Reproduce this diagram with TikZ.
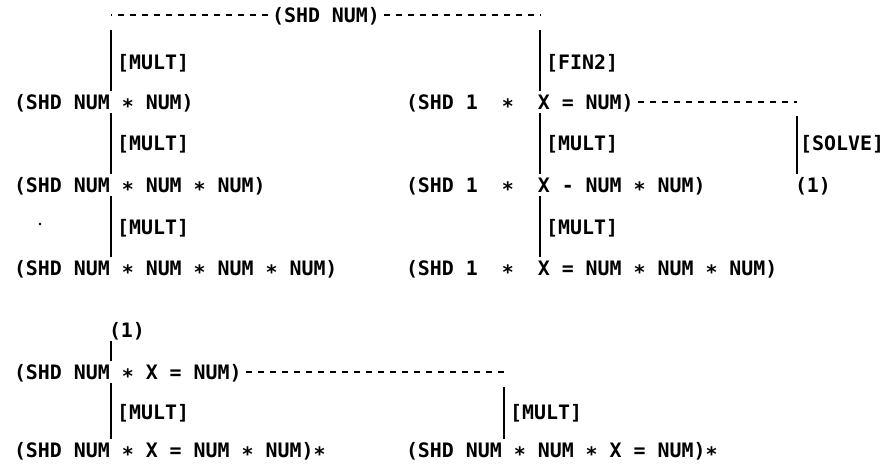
\documentclass[tikz,border=0pt]{standalone}
\usepackage{fontspec}
\newfontfamily\printfont{DejaVu Sans Mono}
% multiplication sign, lowered to sit near the middle of the capitals
\newcommand\mul{\raisebox{-0.35ex}{*}}
\begin{document}
\begin{tikzpicture}[x=1pt,y=-1pt,
  lp/.style={font=\printfont\bfseries\fontsize{19.9}{20}\selectfont,
    inner sep=0pt, text height=14.5pt, text depth=0pt},
  expr/.style={lp, anchor=west, outer sep=4pt},
  rulename/.style={lp, anchor=west},
  link/.style={line width=2.2pt},
  chain/.style={line width=1.5pt, dash pattern=on 6pt off 6pt}]
\useasboundingbox (0,0) rectangle (885,467);

% root of the search tree
\node[expr, anchor=center] (root) at (326,15) {(SHD NUM)};
\coordinate (tl) at (111,15);
\coordinate (tr) at (540,15);
\draw[chain] (root.west) -- (tl);
\draw[chain] (root.east) -- (tr);

% left branch
\coordinate (ca) at (111,0);
\node[expr] (a1) at (10,102) {(SHD NUM \mul{} NUM)};
\node[expr] (a2) at (10,185) {(SHD NUM \mul{} NUM \mul{} NUM)};
\node[expr] (a3) at (10,268) {(SHD NUM \mul{} NUM \mul{} NUM \mul{} NUM)};
\draw[link] ([yshift=-15pt]tl) -- (ca |- a1.north);
\draw[link] (ca |- a1.south) -- (ca |- a2.north);
\draw[link] (ca |- a2.south) -- (ca |- a3.north);
\node[rulename] (ma1) at (117,62) {[MULT]};
\node[rulename] (ma2) at (117,143) {[MULT]};
\node[rulename] (ma3) at (117,227) {[MULT]};
\fill (40,224) circle (1.3pt);

% right branch
\coordinate (cb) at (540,0);
\node[expr] (b1) at (402,102) {(SHD 1~~\mul{}~~X = NUM)};
\node[expr] (b2) at (402,185) {(SHD 1~~\mul{}~~X - NUM \mul{} NUM)};
\node[expr] (b3) at (402,268) {(SHD 1~~\mul{}~~X = NUM \mul{} NUM \mul{} NUM)};
\draw[link] ([yshift=-15pt]tr) -- (cb |- b1.north);
\draw[link] (cb |- b1.south) -- (cb |- b2.north);
\draw[link] (cb |- b2.south) -- (cb |- b3.north);
\node[rulename] (fb1) at (546,62) {[FIN2]};
\node[rulename] (mb2) at (546,143) {[MULT]};
\node[rulename] (mb3) at (546,227) {[MULT]};

% solving step, continued below at (1)
\coordinate (sr) at (797,102);
\node[expr] (o1) at (791,185) {(1)};
\draw[chain] (b1.east) -- (sr);
\draw[link] ([yshift=-14pt]sr) -- (sr |- o1.north);
\node[rulename] (sv) at (800,143) {[SOLVE]};

% continuation (1)
\node[expr] (o2) at (105,330) {(1)};
\node[expr] (d1) at (10,372) {(SHD NUM \mul{} X = NUM)};
\node[expr] (d2) at (10,450) {(SHD NUM \mul{} X = NUM \mul{} NUM)\mul};
\draw[link] (ca |- o2.south) -- (ca |- d1.north);
\draw[link] (ca |- d1.south) -- (ca |- d2.north);
\node[rulename] (md2) at (117,412) {[MULT]};

\coordinate (br) at (504,372);
\node[expr] (e2) at (402,450) {(SHD NUM \mul{} NUM \mul{} X = NUM)\mul};
\draw[chain] (d1.east) -- (br);
\draw[link] ([yshift=-15pt]br) -- (br |- e2.north);
\node[rulename] (me2) at (510,412) {[MULT]};
\end{tikzpicture}
\end{document}
